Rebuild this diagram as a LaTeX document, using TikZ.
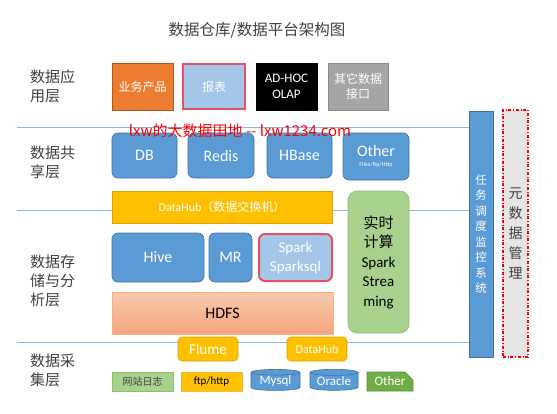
\documentclass[tikz,border=0pt]{standalone}
\usepackage{fontspec}
\setmainfont{Carlito}
\newfontfamily\cjk{Noto Sans CJK SC}
\usetikzlibrary{shapes.geometric,shapes.misc}
\definecolor{bluef}{HTML}{5B9BD5}
\definecolor{blued}{HTML}{41719C}
\definecolor{lblue}{HTML}{A4C6E8}
\definecolor{orangef}{HTML}{ED7D31}
\definecolor{oranged}{HTML}{AE5A21}
\definecolor{salmt}{HTML}{F8CBAD}
\definecolor{salmb}{HTML}{F4A47E}
\definecolor{grayf}{HTML}{A5A5A5}
\definecolor{grayd}{HTML}{8A8A8A}
\definecolor{yellowf}{HTML}{FFC000}
\definecolor{yellowd}{HTML}{D9A300}
\definecolor{greenl}{HTML}{A9D18E}
\definecolor{greenld}{HTML}{8DBF6E}
\definecolor{greend}{HTML}{70AD47}
\definecolor{redb}{HTML}{E8505F}
\definecolor{txt}{HTML}{404040}
\definecolor{lineb}{HTML}{8DB4E2}
\begin{document}
\begin{tikzpicture}[x=1pt,y=-1pt,
  fs/.style={font=\fontsize{#1}{18}\selectfont},
  layerlabel/.style={anchor=west,align=left,text=txt,font=\cjk\fontsize{15}{19}\selectfont,inner sep=0},
  sq/.style={draw=#1,line width=0.6pt,inner sep=0,align=center},
  rb/.style={draw=blued,fill=bluef,rounded corners=6,line width=0.6pt,inner sep=0,align=center,text=white},
  hline/.style={draw=lineb,line width=0.9pt}]
\useasboundingbox (0,0) rectangle (557,413);
% horizontal lines
\coordinate (l1a) at (17,127); \coordinate (l1b) at (469,127);
\coordinate (l2a) at (17,210); \coordinate (l2b) at (469,210);
\coordinate (l3a) at (17,342); \coordinate (l3b) at (469,342);
\draw[hline] (l1a) -- (l1b);
\draw[hline] (l2a) -- (l2b);
\draw[hline] (l3a) -- (l3b);
% title
\node[text=txt,font=\cjk\fontsize{15.5}{17}\selectfont] (title) at (257,30) {数据仓库/数据平台架构图};
% layer labels
\node[layerlabel] (lab1) at (30,86) {数据应\\用层};
\node[layerlabel] (lab2) at (30,162) {数据共\\享层};
\node[layerlabel] (lab3) at (30,281) {数据存\\储与分\\析层};
\node[layerlabel] (lab4) at (30,370) {数据采\\集层};
% application layer
\node[sq=oranged,fill=orangef,minimum width=61,minimum height=47,text=white,font=\cjk\fontsize{12}{15}\selectfont] (biz) at (142.5,86.5) {业务产品};
\node[sq=redb,line width=2pt,fill=lblue,minimum width=62,minimum height=45,text=white,font=\cjk\fontsize{12}{15}\selectfont] (report) at (214,86.5) {报表};
\node[sq=black,fill=black,minimum width=61,minimum height=47,text=white,font=\fontsize{13}{16}\selectfont] (adhoc) at (286.5,86.5) {AD-HOC\\OLAP};
\node[sq=grayd,fill=grayf,minimum width=60,minimum height=47,text=white,font=\cjk\fontsize{12}{15}\selectfont] (api) at (358,86.5) {其它数据\\接口};
% share layer
\node[rb,minimum width=65,minimum height=45,fs=16] (db) at (144.5,155.5) {DB};
\node[rb,minimum width=66,minimum height=45,fs=16] (redis) at (221,155.5) {Redis};
\node[rb,minimum width=65,minimum height=45,fs=16] (hbase) at (299.5,155.5) {HBase};
\node[rb,minimum width=66,minimum height=47] (other) at (376,156.5) {\fontsize{16}{18}\selectfont Other\\[-2pt]\fontsize{6}{7}\selectfont Files/ftp/Http};
% datahub
\node[sq=yellowd,fill=yellowf,minimum width=220,minimum height=32,text=white,font=\fontsize{12}{14}\selectfont] (dh) at (222,207) {DataHub{\cjk（数据交换机）}};
% realtime
\node[draw=greenld,fill=greenl,rounded corners=9,line width=0.6pt,minimum width=61,minimum height=142,inner sep=0,align=center,font=\fontsize{15}{19.5}\selectfont] (rt) at (378.5,262) {{\cjk 实时}\\{\cjk 计算}\\Spark\\Strea\\ming};
% analysis
\node[rb,minimum width=92,minimum height=49,fs=16] (hive) at (158,257.5) {Hive};
\node[rb,minimum width=43,minimum height=49,fs=16] (mr) at (230.5,257.5) {MR};
\node[rb,draw=redb,line width=2pt,fill=lblue,minimum width=73,minimum height=47,font=\fontsize{15}{19}\selectfont] (spark) at (295.5,257.5) {Spark\\Sparksql};
\node[draw=orangef!60,top color=salmt,bottom color=salmb,line width=0.6pt,minimum width=221,minimum height=42,inner sep=0,font=\fontsize{16}{18}\selectfont] (hdfs) at (222.5,313) {HDFS};
% collection
\node[draw=yellowd,fill=yellowf,rounded corners=4,line width=0.6pt,minimum width=60,minimum height=24,inner sep=0,text=white,font=\fontsize{15}{17}\selectfont] (flume) at (208,349) {Flume};
\node[draw=yellowd,fill=yellowf,rounded corners=4,line width=0.6pt,minimum width=60,minimum height=24,inner sep=0,text=white,font=\fontsize{12}{14}\selectfont] (dh2) at (317,349) {DataHub};
\node[sq=greenld,fill=greenl,minimum width=61,minimum height=19,text=txt,font=\cjk\fontsize{10}{12}\selectfont] (web) at (142.5,381.5) {网站日志};
\node[sq=yellowd!70,fill=yellowf,minimum width=61,minimum height=19,text=black,font=\fontsize{11}{13}\selectfont] (ftp) at (211.5,381.5) {ftp/http};
\node[cylinder,shape border rotate=90,aspect=0.18,draw=blued,fill=bluef,line width=0.6pt,minimum width=49,minimum height=21,inner sep=0,text=white,font=\fontsize{13}{15}\selectfont] (mysql) at (275.5,381.5) {Mysql};
\node[cylinder,shape border rotate=90,aspect=0.18,draw=blued,fill=bluef,line width=0.6pt,minimum width=48,minimum height=21,inner sep=0,text=white,font=\fontsize{13}{15}\selectfont] (oracle) at (334,381.5) {Oracle};
\node[chamfered rectangle,chamfered rectangle corners=north east,chamfered rectangle xsep=4pt,chamfered rectangle ysep=4pt,draw=greend!80!black,fill=greend,line width=0.6pt,minimum width=46,minimum height=19,inner sep=0,text=white,font=\fontsize{13}{15}\selectfont] (oth) at (390,381.5) {Other};
% side boxes
\node[draw=blued,fill=bluef,line width=0.6pt,minimum width=24,minimum height=246,inner sep=0,align=center,text=white,font=\cjk\fontsize{11.5}{15.5}\selectfont] (task) at (481,234) {任\\务\\调\\度\\监\\控\\系\\统};
\node[draw=red,dash dot,fill=black!10,line width=1.2pt,minimum width=25,minimum height=247,inner sep=0,align=center,text=txt,font=\cjk\fontsize{14}{20}\selectfont] (meta) at (515.5,233.5) {元\\数\\据\\管\\理};
% watermark
\node[text=red,font=\cjk\fontsize{15}{17}\selectfont,inner sep=0] (wm) at (240,131) {lxw的大数据田地 -- lxw1234.com};
\end{tikzpicture}
\end{document}
